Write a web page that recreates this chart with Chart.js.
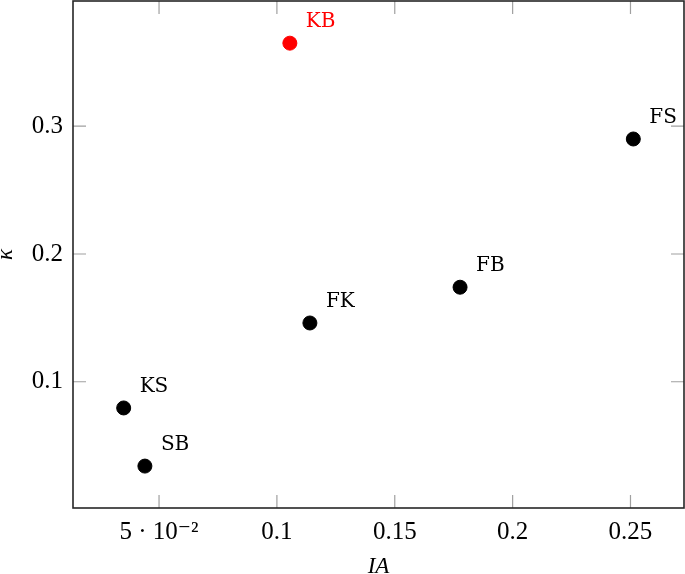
<!DOCTYPE html>
<html>
<head>
<meta charset="utf-8">
<script src="https://cdn.jsdelivr.net/npm/chart.js@4/dist/chart.umd.min.js"></script>
<style>
  html, body { margin: 0; padding: 0; background: #fff; }
  #wrap { width: 685px; height: 574px; }
</style>
</head>
<body>
<div id="wrap"><canvas id="scatter"></canvas></div>
<script>
const names = ["KB", "FS", "FB", "FK", "KS", "SB"];
const iaValues = [0.1055, 0.2512, 0.1777, 0.1140, 0.0350, 0.0440];
const kappaValues = [0.365, 0.290, 0.174, 0.146, 0.0795, 0.034];
const pointColors = ["#ff0000", "#000000", "#000000", "#000000", "#000000", "#000000"];
const xTicks = [0.05, 0.1, 0.15, 0.2, 0.25];
const yTicks = [0.1, 0.2, 0.3];

const serif = "'Liberation Serif', 'DejaVu Serif', serif";
// no typewriter serif font here, DejaVu Serif is the closest slab look
const labelFont = "'DejaVu Serif', serif";

// frame + inward tick marks on all four sides
const framePlugin = {
    id: "frame",
    afterDatasetsDraw(chart) {
        const ctx = chart.ctx;
        const a = chart.chartArea;
        const xs = chart.scales.x, ys = chart.scales.y;
        const len = 13;
        ctx.save();
        ctx.strokeStyle = "#a0a0a0";
        ctx.lineWidth = 1.2;
        ctx.beginPath();
        xTicks.forEach(v => {
            const px = xs.getPixelForValue(v);
            ctx.moveTo(px, a.bottom); ctx.lineTo(px, a.bottom - len);
            ctx.moveTo(px, a.top); ctx.lineTo(px, a.top + len);
        });
        yTicks.forEach(v => {
            const py = ys.getPixelForValue(v);
            ctx.moveTo(a.left, py); ctx.lineTo(a.left + len, py);
            ctx.moveTo(a.right, py); ctx.lineTo(a.right - len, py);
        });
        ctx.stroke();
        ctx.strokeStyle = "#262626";
        ctx.lineWidth = 1.6;
        ctx.strokeRect(a.left, a.top, a.right - a.left, a.bottom - a.top);
        ctx.restore();
    }
};

// point names, up and to the right of each marker
const namePlugin = {
    id: "names",
    afterDatasetsDraw(chart) {
        const ctx = chart.ctx;
        const meta = chart.getDatasetMeta(0);
        ctx.save();
        ctx.font = "20px " + labelFont;
        ctx.textBaseline = "alphabetic";
        ctx.textAlign = "left";
        meta.data.forEach((pt, i) => {
            ctx.fillStyle = pointColors[i];
            ctx.fillText(names[i], pt.x + 16, pt.y - 16);
        });
        ctx.restore();
    }
};

function drawChart() {
    new Chart(document.getElementById("scatter"), {
        type: "scatter",
        data: {
            datasets: [{
                data: iaValues.map((v, i) => ({ x: v, y: kappaValues[i] })),
                backgroundColor: pointColors,
                borderColor: pointColors,
                pointRadius: 7,
                pointHoverRadius: 7
            }]
        },
        options: {
            responsive: true,
            maintainAspectRatio: false,
            animation: false,
            layout: { autoPadding: false, padding: { top: 1, right: 1, left: 0, bottom: 0 } },
            plugins: { legend: { display: false }, tooltip: { enabled: false } },
            scales: {
                x: {
                    type: "linear",
                    min: 0.0135,
                    max: 0.2727,
                    grid: { display: false, drawTicks: false },
                    border: { display: false },
                    afterBuildTicks: s => { s.ticks = xTicks.map(v => ({ value: v })); },
                    afterFit: s => { s.height = 66; s.paddingLeft = 0; s.paddingRight = 0; },
                    ticks: {
                        color: "#000",
                        padding: 9,
                        maxRotation: 0,
                        font: { family: serif, size: 25 },
                        callback: v => v === 0.05 ? "5 \u00b7 10\u207b\u00b2" : String(v)
                    },
                    title: {
                        display: true,
                        text: "IA",
                        color: "#000",
                        padding: { top: 0, bottom: -7 },
                        font: { family: serif, size: 23, style: "italic" }
                    }
                },
                y: {
                    type: "linear",
                    min: 0.0012,
                    max: 0.398,
                    grid: { display: false, drawTicks: false },
                    border: { display: false },
                    afterBuildTicks: s => { s.ticks = yTicks.map(v => ({ value: v })); },
                    afterFit: s => { s.width = 73; s.paddingTop = 0; s.paddingBottom = 0; },
                    ticks: {
                        color: "#000",
                        padding: 10,
                        font: { family: serif, size: 25 },
                        callback: v => String(v)
                    },
                    title: {
                        display: true,
                        text: "\u03ba",
                        color: "#000",
                        padding: { top: -8, bottom: 0 },
                        font: { family: serif, size: 23, style: "italic" }
                    }
                }
            }
        },
        plugins: [framePlugin, namePlugin]
    });
}

Promise.all([
    document.fonts.load("20px 'DejaVu Serif'"),
    document.fonts.load("25px 'Liberation Serif'"),
    document.fonts.load("italic 23px 'Liberation Serif'")
]).then(drawChart, drawChart);
</script>
</body>
</html>
